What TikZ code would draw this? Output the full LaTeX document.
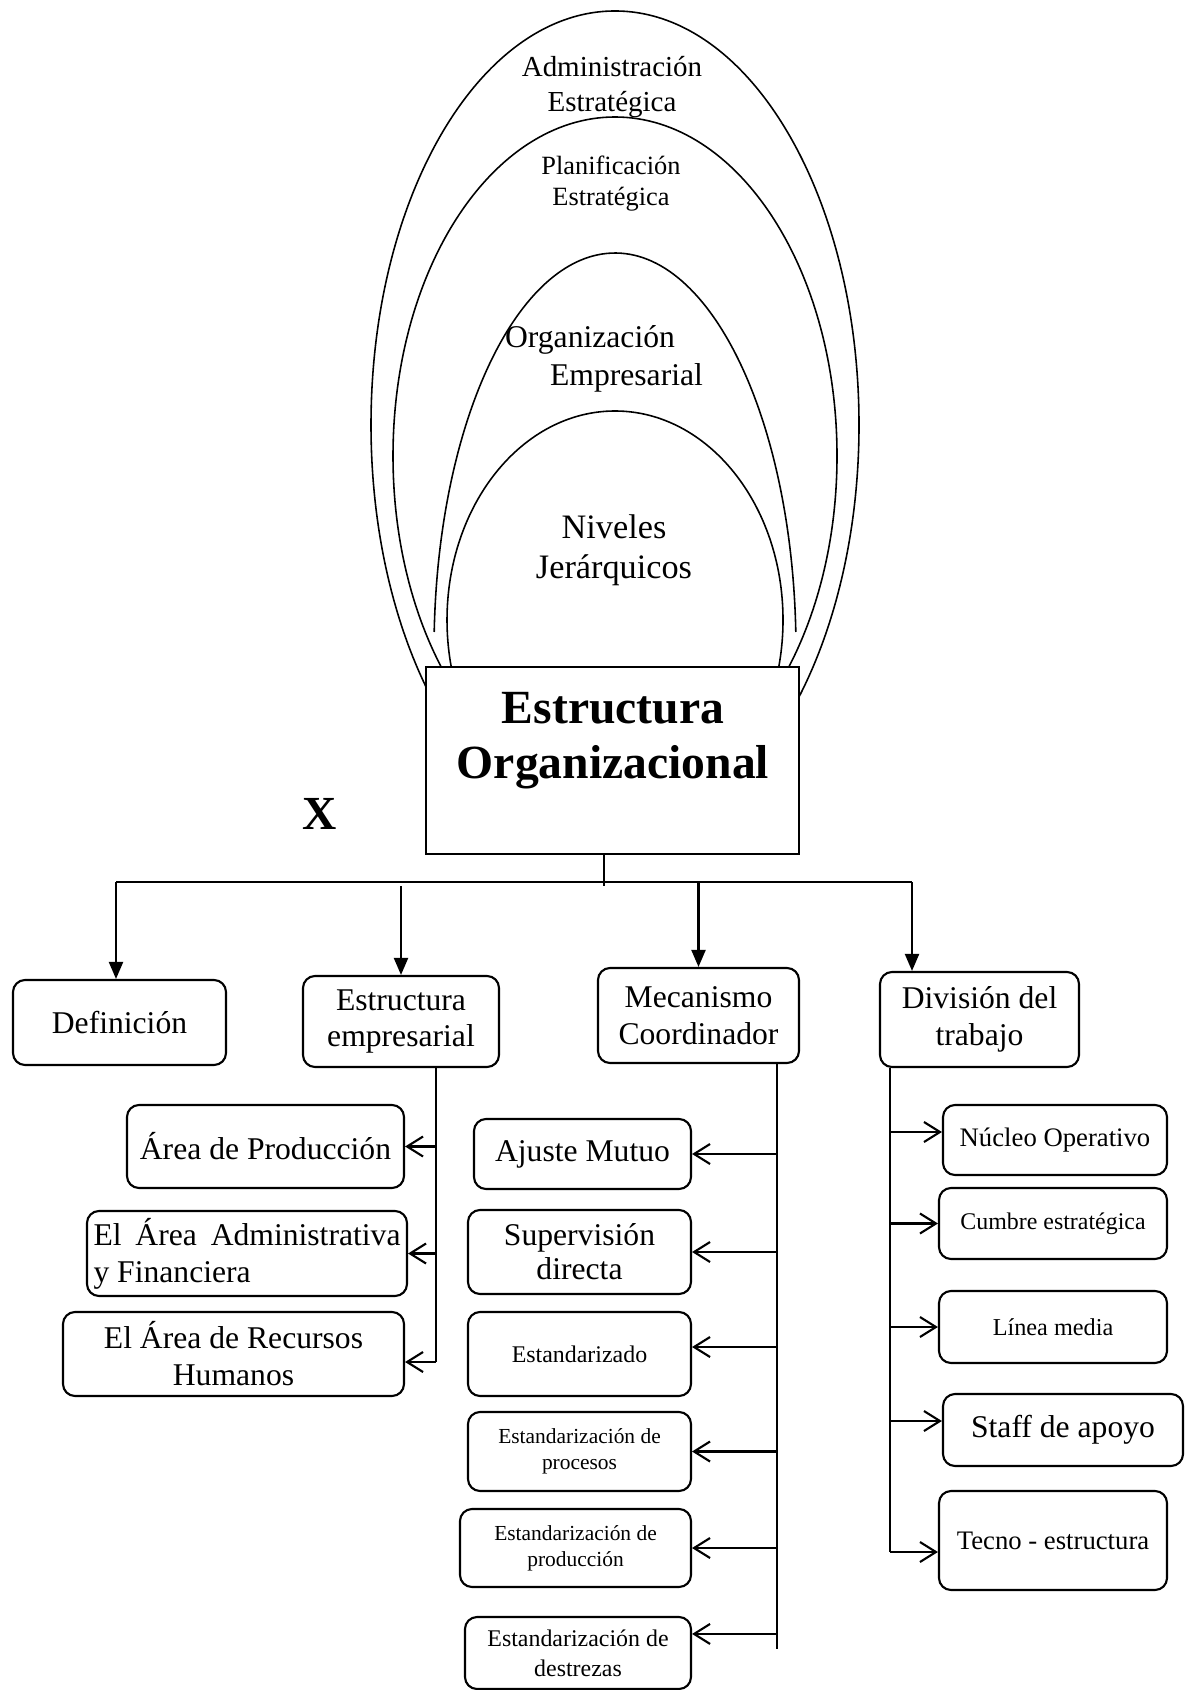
\documentclass[tikz,border=0pt]{standalone}
\usepackage{fontspec}
\setmainfont{Liberation Serif}
\usetikzlibrary{arrows.meta}
\newcommand{\txtsize}[2]{\fontsize{#1}{#2}\selectfont}

\tikzset{
  ring/.style={line width=0.45pt},
  card/.style={draw, rounded corners=1.2mm, line width=0.6pt, align=center, inner sep=0pt},
  link/.style={line width=0.6pt},
  down/.style={link, -{Triangle[length=1.7mm,width=1.4mm]}},
  side/.style={link, -{Straight Barb[length=1.6mm,width=2mm]}},
}

\begin{document}
\begin{tikzpicture}
    \clip (0,0) rectangle (11.87,-16.90);

    % nested rings
    \draw[ring] (6.15,-4.25) ellipse[x radius=2.44, y radius=4.14];
    \draw[ring] (6.15,-4.56) ellipse[x radius=2.22, y radius=3.39];
    \draw[ring] (7.958,-6.32) arc[start angle=2.6, end angle=177.4, x radius=1.81, y radius=3.97];
    \draw[ring] (6.15,-6.20) ellipse[x radius=1.68, y radius=2.09];

    \node[align=center, font=\txtsize{8.25}{10.2}] (adm) at (6.12,-0.87) {Administración\\Estratégica};
    \node[align=center, font=\txtsize{7.5}{8.8}] (plan) at (6.11,-1.835) {Planificación\\Estratégica};
    \node[align=left, font=\txtsize{9}{10.8}] (orgemp) at (6.04,-3.59) {Organización\\\hspace*{4.5mm}Empresarial};
    \node[align=center, font=\txtsize{9.75}{11.4}] (niv) at (6.14,-5.50) {Niveles\\Jerárquicos};

    % main box
    \node[draw, fill=white, line width=0.6pt, minimum width=3.73cm, minimum height=1.87cm] (org) at (6.125,-7.605) {};
    \node[align=center, font=\txtsize{13.55}{15.6}\bfseries] (orgtxt) at (6.13,-7.41) {Estructura\\Organizacional};
    \node[font=\txtsize{13.5}{15}\bfseries] (mark) at (3.20,-8.14) {X};

    % first level
    \node[card, minimum width=2.13cm, minimum height=0.85cm, font=\txtsize{9}{10.5}] (def) at (1.195,-10.225) {Definición};
    \node[card, minimum width=1.96cm, minimum height=0.91cm, font=\txtsize{9}{10.5}] (emp) at (4.01,-10.215) {Estructura\\empresarial};
    \node[card, minimum width=2.01cm, minimum height=0.95cm, font=\txtsize{9}{10.5}] (mec) at (6.985,-10.155) {Mecanismo\\Coordinador};
    \node[card, minimum width=1.99cm, minimum height=0.95cm, font=\txtsize{9}{10.5}] (div) at (9.795,-10.195) {División del\\trabajo};

    \coordinate (hub) at (6.04,-8.86);
    \coordinate (busL) at (1.16,-8.82);
    \coordinate (busR) at (9.12,-8.82);
    \draw[link] (org.south -| hub) -- (hub);
    \draw[link] (busL) -- (busR);
    \draw[down] (busL) -- (busL |- def.north);
    \draw[down] (emp.north |- hub) -- (emp.north);
    \draw[down] (mec.north |- busR) -- (mec.north);
    \draw[down] (busR) -- (busR |- div.north);

    % Estructura empresarial
    \node[card, minimum width=2.77cm, minimum height=0.83cm, font=\txtsize{9}{10.5}] (prod) at (2.655,-11.465) {Área de Producción};
    \node[card, minimum width=3.20cm, minimum height=0.85cm, text width=3.07cm, align=justify, font=\txtsize{9}{10.5}] (admfin) at (2.47,-12.535) {El Área Administrativa y Financiera};
    \node[card, minimum width=3.41cm, minimum height=0.84cm, font=\txtsize{9}{10.5}] (rrhh) at (2.335,-13.54) {El Área de Recursos\\Humanos};

    \coordinate (empend) at (4.36,-13.62);
    \draw[link] (emp.south -| empend) -- (empend);
    \draw[side] (empend |- prod.east) -- (prod.east);
    \draw[side] (empend |- admfin.east) -- (admfin.east);
    \draw[side] (empend) -- (empend -| rrhh.east);

    % Mecanismo Coordinador
    \node[card, minimum width=2.17cm, minimum height=0.70cm, font=\txtsize{9}{10.5}] (aju) at (5.825,-11.54) {Ajuste Mutuo};
    \node[card, minimum width=2.23cm, minimum height=0.84cm, font=\txtsize{9}{9.7}] (sup) at (5.795,-12.52) {Supervisión\\directa};
    \node[card, minimum width=2.23cm, minimum height=0.84cm, font=\txtsize{6.8}{8}] (std) at (5.795,-13.54) {Estandarizado};
    \node[card, minimum width=2.23cm, minimum height=0.79cm, font=\txtsize{6.1}{7.4}] (proc) at (5.795,-14.515) {Estandarización de\\procesos};
    \node[card, minimum width=2.31cm, minimum height=0.78cm, font=\txtsize{6.1}{7.4}] (prodn) at (5.755,-15.48) {Estandarización de\\producción};
    \node[card, minimum width=2.26cm, minimum height=0.72cm, font=\txtsize{6.8}{8.5}] (dest) at (5.78,-16.53) {Estandarización de\\destrezas};

    \coordinate (mecend) at (7.77,-16.49);
    \coordinate (stdin) at ([yshift=0.7mm]std.east);
    \coordinate (destin) at ([yshift=-1.8mm]dest.north east);
    \draw[link] (mec.south -| mecend) -- (mecend);
    \draw[side] (mecend |- aju.east) -- (aju.east);
    \draw[side] (mecend |- sup.east) -- (sup.east);
    \draw[side] (mecend |- stdin) -- (stdin);
    \draw[side] (mecend |- proc.east) -- (proc.east);
    \draw[side] (mecend |- prodn.east) -- (prodn.east);
    \draw[side] (mecend |- destin) -- (destin);

    % División del trabajo
    \node[card, minimum width=2.24cm, minimum height=0.70cm, font=\txtsize{7.6}{9}] (nuc) at (10.55,-11.40) {Núcleo Operativo};
    \node[card, minimum width=2.28cm, minimum height=0.71cm, font=\txtsize{6.8}{8}] (cum) at (10.53,-12.235) {Cumbre estratégica};
    \node[card, minimum width=2.28cm, minimum height=0.72cm, font=\txtsize{6.9}{8}] (lin) at (10.53,-13.27) {Línea media};
    \node[card, minimum width=2.40cm, minimum height=0.72cm, font=\txtsize{9}{10.5}] (sta) at (10.63,-14.30) {Staff de apoyo};
    \node[card, minimum width=2.28cm, minimum height=0.99cm, font=\txtsize{7.6}{9}] (tec) at (10.53,-15.405) {Tecno - estructura};

    \coordinate (divend) at (8.90,-15.52);
    \coordinate (nucin) at ([yshift=0.8mm]nuc.west);
    \coordinate (stain) at ([yshift=0.9mm]sta.west);
    \draw[link] (div.south -| divend) -- (divend);
    \draw[side] (divend |- nucin) -- (nucin);
    \draw[side] (divend |- cum.west) -- (cum.west);
    \draw[side] (divend |- lin.west) -- (lin.west);
    \draw[side] (divend |- stain) -- (stain);
    \draw[side] (divend) -- (divend -| tec.west);
\end{tikzpicture}
\end{document}
